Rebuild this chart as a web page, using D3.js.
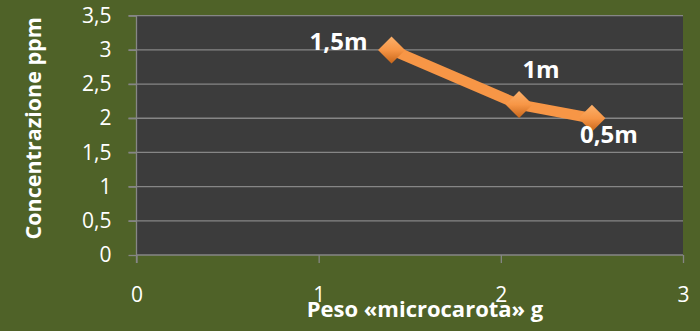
<!DOCTYPE html>
<html>
<head>
<meta charset="utf-8">
<script src="https://cdn.jsdelivr.net/npm/d3@7"></script>
<style>
  body { margin: 0; background: #4f6228; }
  svg { display: block; }
</style>
</head>
<body>
<svg width="700" height="331"></svg>
<script>
"use strict";

// data
const pesoValues = [1.4, 2.1, 2.5];
const concValues = [3.0, 2.2, 2.0];
const pointLabels = ["1,5m", "1m", "0,5m"];
const xTicks = [0, 1, 2, 3];
const yTicks = [0, 0.5, 1, 1.5, 2, 2.5, 3, 3.5];

const fmt = d => String(d).replace(".", ",");
const font = "'Open Sans', 'DejaVu Sans', sans-serif";

const svg = d3.select("svg"),
    margin = {left: 136.5, right: 17, top: 15.7, bottom: 76},
    width = 700,
    height = 331;

const x = d3.scaleLinear().domain([0, 3]).range([margin.left, width - margin.right]);
const y = d3.scaleLinear().domain([0, 3.5]).range([height - margin.bottom, margin.top]);

svg.append("rect")
    .attr("width", width).attr("height", height)
    .attr("fill", "#4f6228");

// plot area
svg.append("rect")
    .attr("x", x(0)).attr("y", y(3.5))
    .attr("width", x(3) - x(0)).attr("height", y(0) - y(3.5))
    .attr("fill", "#3c3c3c");

const defs = svg.append("defs");
const grad = defs.append("linearGradient")
    .attr("id", "mk").attr("x1", 0).attr("y1", 0).attr("x2", 0).attr("y2", 1);
grad.append("stop").attr("offset", "0%").attr("stop-color", "#fbb06b");
grad.append("stop").attr("offset", "50%").attr("stop-color", "#f79646");
grad.append("stop").attr("offset", "100%").attr("stop-color", "#c8661a");

// gridlines
svg.append("g")
    .selectAll("line")
    .data(yTicks.filter(d => d > 0))
    .join("line")
    .attr("x1", x(0) - 8).attr("x2", x(3))
    .attr("y1", d => y(d)).attr("y2", d => y(d))
    .attr("stroke", "#868686").attr("stroke-width", 1.3);

// y axis
const yAxis = svg.append("g")
    .attr("transform", `translate(${x(0)},0)`)
    .call(d3.axisLeft(y).tickValues(yTicks).tickFormat(fmt).tickSize(8).tickPadding(17));
yAxis.selectAll("line, path").attr("stroke", "#868686").attr("stroke-width", 1.3);
yAxis.select(".domain").attr("d", `M0,${y(3.5)}V${y(0) + 8}`);
yAxis.selectAll("text")
    .attr("fill", "#fff").attr("font-size", 21).attr("font-family", font);

// x axis
const xAxis = svg.append("g")
    .attr("transform", `translate(0,${y(0)})`)
    .call(d3.axisBottom(x).tickValues(xTicks).tickFormat(fmt).tickSize(8).tickPadding(24));
xAxis.selectAll("line, path").attr("stroke", "#868686").attr("stroke-width", 1.3);
xAxis.select(".domain").attr("d", `M${x(0)},0H${x(3)}`);
xAxis.selectAll("text")
    .attr("fill", "#fff").attr("font-size", 21).attr("font-family", font);

// axis titles
svg.append("text")
    .attr("transform", `translate(41,${(y(0) + y(3.5)) / 2 - 7}) rotate(-90)`)
    .attr("text-anchor", "middle")
    .attr("fill", "#fff").attr("font-weight", "bold")
    .attr("font-size", 21.5).attr("font-family", font)
    .text("Concentrazione ppm");

svg.append("text")
    .attr("x", 425).attr("y", 317)
    .attr("text-anchor", "middle")
    .attr("fill", "#fff").attr("font-weight", "bold")
    .attr("font-size", 22).attr("font-family", font)
    .text("Peso «microcarota» g");

// line
const pts = pesoValues.map((p, i) => ({x: p, y: concValues[i], label: pointLabels[i]}));
svg.append("path")
    .datum(pts)
    .attr("fill", "none")
    .attr("stroke", "#f79646")
    .attr("stroke-width", 10.5)
    .attr("stroke-linejoin", "round")
    .attr("d", d3.line().x(d => x(d.x)).y(d => y(d.y)));

// markers
svg.append("g")
    .selectAll("path")
    .data(pts)
    .join("path")
    .attr("transform", d => `translate(${x(d.x)},${y(d.y)})`)
    .attr("d", "M0,-13.5L13.5,0L0,13.5L-13.5,0Z")
    .attr("fill", "url(#mk)");

// data labels
const labelOffsets = [[-53, 0], [22, -27], [17, 25]];
svg.append("g")
    .selectAll("text")
    .data(pts)
    .join("text")
    .attr("x", (d, i) => x(d.x) + labelOffsets[i][0])
    .attr("y", (d, i) => y(d.y) + labelOffsets[i][1])
    .attr("text-anchor", "middle")
    .attr("fill", "#fff").attr("font-weight", "bold")
    .attr("font-size", 24).attr("font-family", font)
    .text(d => d.label);
</script>
</body>
</html>
